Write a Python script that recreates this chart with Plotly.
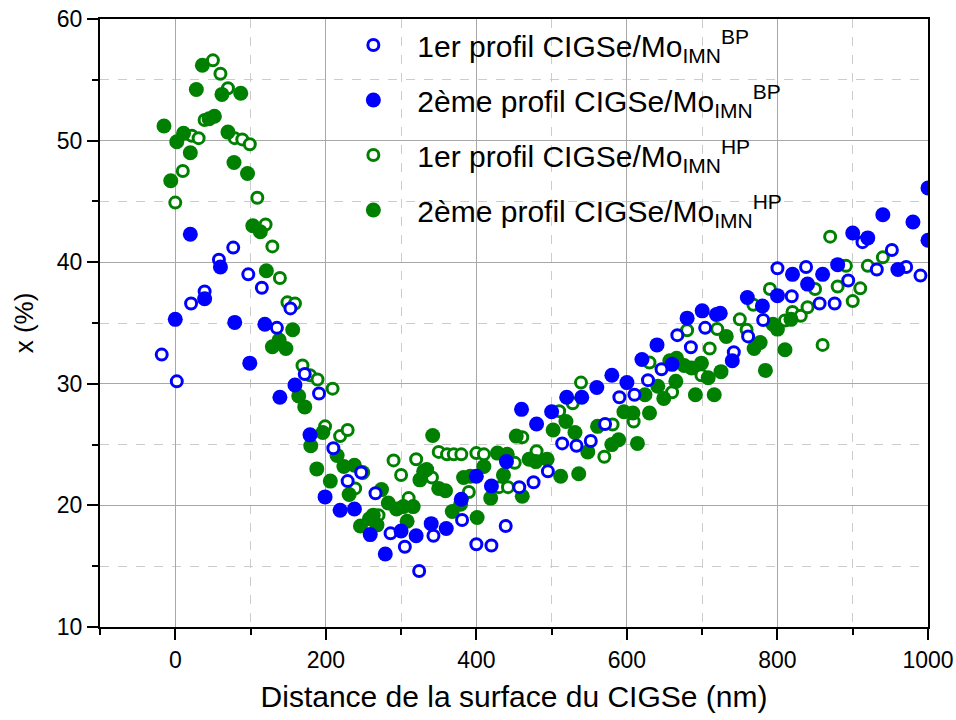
import plotly.graph_objects as go

# 1er profil CIGSe/Mo_IMN^BP (blue, open)
bp1_x = [-18, 2, 21, 39, 58, 77, 97, 115, 135, 153, 172, 191, 210, 229, 247, 266, 286, 305, 324, 343,
         381, 400, 420, 439, 457, 476, 495, 514, 533, 552, 571, 590, 610, 628, 646, 667, 685, 704,
         742, 761, 781, 800, 819, 838, 856, 876, 894, 913, 932, 952, 971, 990]
bp1_y = [32.4, 30.2, 36.6, 37.6, 40.2, 41.2, 39.0, 37.9, 34.6, 36.2, 30.8, 29.2, 24.7, 22.0, 22.7, 21.0, 17.7, 16.6, 14.6, 17.5,
         18.8, 16.8, 16.7, 18.3, 21.5, 21.9, 22.8, 25.1, 24.9, 25.3, 26.7, 28.9, 29.1, 30.3, 31.2, 34.0, 33.0, 34.6,
         32.6, 33.9, 35.25, 39.5, 37.2, 39.6, 36.6, 36.6, 38.5, 41.65, 39.4, 41.0, 39.6, 38.9]

# 2eme profil CIGSe/Mo_IMN^BP (blue, filled)
bp2_x = [0, 20, 39, 60, 79, 99, 119, 139, 159, 179, 199, 219, 238, 259, 279, 300, 320, 340, 360, 380,
         400, 420, 440, 460, 480, 500, 520, 540, 560, 580, 600, 620, 640, 660, 680, 700, 719, 724, 740,
         760, 780, 800, 820, 840, 860, 880, 900, 920, 940, 960, 980, 1000, 1000]
bp2_y = [35.3, 42.3, 37.0, 39.6, 35.05, 31.7, 34.9, 28.9, 29.9, 25.8, 20.7, 19.6, 19.7, 17.6, 16.0, 17.9, 17.5, 18.5, 18.1, 20.5,
         22.4, 21.6, 23.6, 27.9, 26.7, 27.7, 28.9, 28.9, 29.7, 30.7, 30.1, 32.0, 33.2, 31.6, 35.4, 36.0, 35.7, 35.8, 31.9,
         37.1, 36.4, 37.25, 39.0, 38.2, 39.0, 39.8, 42.4, 42.0, 43.9, 39.4, 43.3, 46.1, 41.8]

# 1er profil CIGSe/Mo_IMN^HP (green, open)
hp1_x = [0, 10, 22, 31, 39, 50, 60, 70, 79, 89, 99, 109, 120, 129, 139, 149, 159, 169, 179, 189,
         199, 209, 219, 229, 239, 270, 290, 300, 310, 320, 341, 350, 361, 370, 380, 390, 400, 410, 430,
         442, 451, 461, 480, 510, 528, 539, 570, 581, 609, 630, 660, 680, 699, 710, 720, 750, 759,
         768, 790, 810, 820, 831, 840, 850, 860, 870, 880, 891, 900, 910, 920, 940]
hp1_y = [44.9, 47.5, 50.4, 50.2, 51.7, 56.6, 55.5, 54.3, 50.2, 50.1, 49.7, 45.3, 43.1, 41.3, 38.7, 36.7, 36.6, 31.5, 30.7, 30.35,
         26.5, 29.6, 25.7, 26.2, 21.4, 19.2, 23.7, 22.5, 20.6, 23.8, 22.3, 24.4, 24.2, 24.2, 24.2, 21.1, 24.3, 24.2, 21.5,
         21.5, 23.5, 25.6, 24.45, 27.75, 28.4, 30.1, 24.0, 26.65, 26.9, 31.75, 29.3, 34.4, 30.7, 32.9, 34.5, 35.3, 34.45,
         36.5, 37.8, 35.2, 35.9, 35.6, 36.3, 37.8, 33.2, 42.1, 38.0, 39.7, 36.8, 37.85, 39.7, 40.4]

# 2eme profil CIGSe/Mo_IMN^HP (green, filled)
hp2_x = [-15, -6, 2, 11, 20, 28, 36, 45, 52, 62, 70, 78, 87, 96, 103, 113, 121, 129, 138, 147,
         156, 164, 172, 180, 188, 196, 206, 215, 224, 231, 238, 246, 249, 258, 263, 268, 274, 283, 294,
         303, 308, 316, 325, 330, 334, 342, 350, 359, 368, 379, 383, 392, 401, 410, 419, 428, 436, 441,
         453, 461, 470, 479, 494, 502, 512, 519, 531, 536, 548, 561, 580, 589, 596, 608, 614, 624, 630,
         641, 649, 657, 665, 666, 676, 686, 691, 699, 708, 716, 725, 732, 769, 777, 784, 794, 800, 810, 818]
hp2_y = [51.2, 46.7, 49.9, 50.6, 49.0, 54.2, 56.2, 51.8, 52.0, 53.8, 50.7, 48.2, 53.9, 47.3, 43.0, 42.5, 39.3, 33.05, 33.6, 32.9,
         34.45, 29.0, 28.1, 24.9, 23.0, 26.0, 22.0, 24.1, 23.2, 20.9, 23.3, 18.3, 22.7, 18.9, 19.2, 18.4, 21.3, 20.2, 19.7,
         19.9, 18.7, 19.9, 22.1, 22.8, 22.95, 25.75, 21.4, 21.2, 19.5, 20.1, 22.3, 22.4, 19.0, 23.2, 20.6, 24.3, 22.5, 24.2,
         25.7, 20.75, 23.8, 23.6, 23.8, 26.2, 22.4, 26.9, 26.0, 22.6, 24.4, 26.5, 25.0, 25.4, 27.7, 27.6, 25.1, 29.1, 27.6,
         29.8, 28.8, 31.9, 30.2, 32.1, 31.5, 31.3, 29.1, 31.7, 30.5, 29.1, 31.0, 33.9, 32.9, 33.4, 31.1, 34.9, 34.5, 32.8, 35.3]

names = [
    "1er profil CIGSe/Mo<sub>IMN</sub><sup>BP</sup>",
    "2ème profil CIGSe/Mo<sub>IMN</sub><sup>BP</sup>",
    "1er profil CIGSe/Mo<sub>IMN</sub><sup>HP</sup>",
    "2ème profil CIGSe/Mo<sub>IMN</sub><sup>HP</sup>",
]

BLUE = "#0000FF"
GREEN = "#008000"
FONT = "Liberation Sans"

def open_marker(c):
    return dict(symbol="circle", size=11, color="white", line=dict(color=c, width=3))

def filled_marker(c):
    return dict(symbol="circle", size=15, color=c, line=dict(width=0))

fig = go.Figure()
fig.add_trace(go.Scatter(x=hp1_x, y=hp1_y, mode="markers", name=names[2], marker=open_marker(GREEN),
                         legendrank=3, legendgroup="g3"))
fig.add_trace(go.Scatter(x=hp2_x, y=hp2_y, mode="markers", name=names[3], marker=filled_marker(GREEN),
                         legendrank=4, legendgroup="g4"))
fig.add_trace(go.Scatter(x=bp1_x, y=bp1_y, mode="markers", name=names[0], marker=open_marker(BLUE),
                         legendrank=1, legendgroup="g1"))
fig.add_trace(go.Scatter(x=bp2_x, y=bp2_y, mode="markers", name=names[1], marker=filled_marker(BLUE),
                         legendrank=2, legendgroup="g2"))

axis_common = dict(
    showline=True, linecolor="black", linewidth=2, mirror=True,
    ticks="outside", ticklen=11, tickwidth=2, tickcolor="black",
    showgrid=True, gridcolor="#a8a8a8", gridwidth=1,
    zeroline=False, automargin=False,
    tickfont=dict(family=FONT, size=23, color="black"),
)

fig.update_xaxes(
    range=[-100, 1000], tick0=0, dtick=200,
    minor=dict(dtick=100, ticks="outside", ticklen=6, tickwidth=2, tickcolor="black",
               showgrid=True, gridcolor="#cccccc", griddash="dash", gridwidth=1),
    title=dict(text="Distance de la surface du CIGSe (nm)", standoff=14,
               font=dict(family=FONT, size=30, color="black")),
    **axis_common,
)
fig.update_yaxes(
    range=[10, 60], tick0=10, dtick=10,
    minor=dict(dtick=5, ticks="outside", ticklen=6, tickwidth=2, tickcolor="black",
               showgrid=True, gridcolor="#cccccc", griddash="dash", gridwidth=1),
    title=dict(text="x (%)", standoff=16,
               font=dict(family=FONT, size=26, color="black")),
    **axis_common,
)

fig.update_layout(
    width=956, height=720,
    margin=dict(l=100, r=28, t=19, b=93, autoexpand=False),
    paper_bgcolor="white", plot_bgcolor="white",
    showlegend=True,
    legend=dict(x=0.277, y=1.0, xanchor="left", yanchor="top",
                bgcolor="rgba(0,0,0,0)", borderwidth=0,
                font=dict(family=FONT, size=30, color="black"),
                tracegroupgap=13, itemwidth=78),
    font=dict(family=FONT, color="black"),
)

fig.write_html("out.html",
               config={"displayModeBar": False},
               post_script="document.body.style.margin='0';document.body.style.overflow='hidden';")
